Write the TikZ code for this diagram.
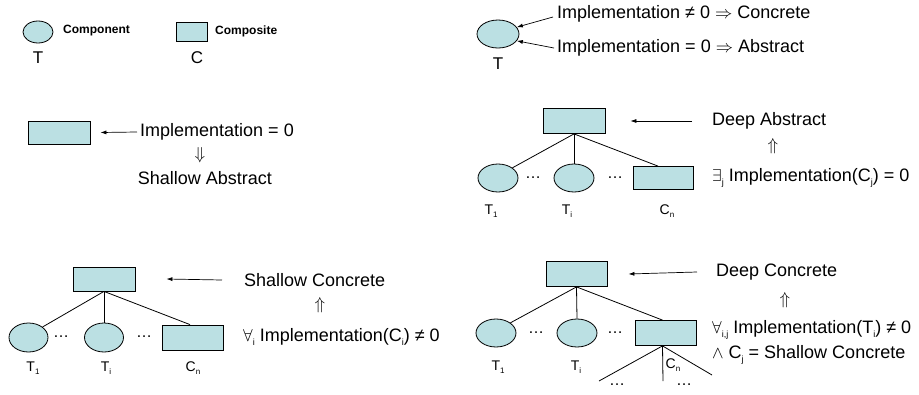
\documentclass[tikz,border=0pt]{standalone}
\usepackage{fontspec}
\setmainfont{Liberation Sans}
\usetikzlibrary{shapes.geometric,arrows.meta}
\definecolor{cfill}{RGB}{187,224,227}
\newcommand\mysub[2][9]{\raisebox{-0.45ex}{\fontsize{#1}{#1}\selectfont #2}}
\begin{document}
\begin{tikzpicture}[x=1pt,y=-1pt,
 tnode/.style={ellipse,draw,fill=cfill,line width=0.8pt,inner sep=0pt,minimum width=40pt,minimum height=28pt},
 cnode/.style={rectangle,draw,fill=cfill,line width=0.8pt,inner sep=0pt,minimum width=61pt,minimum height=24pt},
 big/.style={font=\fontsize{18}{20}\selectfont,inner sep=0pt},
 txt/.style={big,anchor=west},
 bold/.style={font=\fontsize{12}{14}\selectfont\bfseries,inner sep=0pt,anchor=west},
 sml/.style={font=\fontsize{14}{16}\selectfont,inner sep=0pt},
 lgl/.style={font=\fontsize{17}{18}\selectfont,inner sep=0pt},
 dotsn/.style={font=\fontsize{16}{18}\selectfont,inner sep=0pt},
 arr/.style={-{Latex[length=6pt,width=4pt]},line width=0.7pt},
 edgel/.style={line width=0.8pt}]
\useasboundingbox (0,0) rectangle (919,394);

% legend
\node[tnode,minimum width=30pt,minimum height=22pt] (lt) at (38,32) {};
\node[bold] (lcomp) at (63,31) {Component};
\node[lgl] (lT) at (38,58) {T};
\node[cnode,minimum width=31pt,minimum height=19pt] (lc) at (191.5,31.5) {};
\node[bold] (lcompo) at (215,31) {Composite};
\node[lgl] (lC) at (197,58) {C};

% top right
\node[tnode,minimum width=42pt,minimum height=28pt] (tr) at (498,34) {};
\node[lgl] (trT) at (498,64) {T};
\node[txt] (c1) at (557,14) {Implementation ≠ 0 $\Rightarrow$ Concrete};
\node[txt] (c2) at (557,48) {Implementation = 0 $\Rightarrow$ Abstract};
\draw[arr] ([shift={(-4,3)}]c1.west) -- (tr.20);
\draw[arr] ([shift={(-3,0)}]c2.west) -- (tr.-20);

% middle left
\node[cnode,minimum width=62pt,minimum height=23pt] (ml) at (59,132.5) {};
\node[txt] (mlt) at (140,132) {Implementation = 0};
\draw[arr] ([xshift=-3pt]mlt.west) -- ([xshift=10pt]ml.east);
\node[big] (mld) at (200,155) {$\Downarrow$};
\node[big] (mls) at (205,178) {Shallow Abstract};

% middle right (deep abstract)
\node[cnode,minimum width=62pt,minimum height=25pt] (dr) at (574,121) {};
\node[txt] (da) at (712,121) {Deep Abstract};
\draw[arr] ([xshift=-20pt]da.west) -- ([xshift=25pt]dr.east);
\node[big] (dau) at (773,146) {$\Uparrow$};
\node[txt] (dac) at (712,178) {$\exists$\mysub{j} Implementation(C\mysub{j}) = 0};
\node[tnode] (de1) at (498,178) {};
\node[tnode] (de2) at (574,178) {};
\node[cnode,minimum width=60pt,minimum height=23pt] (dc2) at (663,178) {};
\node[dotsn] (dd1) at (533,178) {…};
\node[dotsn] (dd2) at (615,178) {…};
\draw[edgel] (dr.south) -- (de1.north east);
\draw[edgel] (dr.south) -- (de2.north);
\draw[edgel] (dr.south) -- ([xshift=-5pt]dc2.north);
\node[sml] (dl1) at (491,211) {T\mysub[8]{1}};
\node[sml] (dl2) at (567,211) {T\mysub[8]{i}};
\node[sml] (dl3) at (667,211) {C\mysub[8]{n}};

% bottom left (shallow concrete)
\node[cnode,minimum width=62pt,minimum height=24pt] (sr) at (104,279) {};
\node[txt] (sc) at (244,280) {Shallow Concrete};
\draw[arr] ([xshift=-22pt]sc.west) -- ([xshift=31pt]sr.east);
\node[big] (scu) at (320,305) {$\Uparrow$};
\node[txt] (scc) at (243,337) {$\forall$\mysub{i} Implementation(C\mysub{i}) ≠ 0};
\node[tnode,minimum width=39pt,minimum height=29pt] (se1) at (28.5,337.5) {};
\node[tnode,minimum width=39pt,minimum height=29pt] (se2) at (104,337.5) {};
\node[cnode,minimum width=61pt,minimum height=25pt] (sc2) at (193,337.5) {};
\node[dotsn] (sd1) at (61,337) {…};
\node[dotsn] (sd2) at (144,337) {…};
\draw[edgel] (sr.south) -- (se1.north east);
\draw[edgel] (sr.south) -- (se2.north);
\draw[edgel] (sr.south) -- ([xshift=-3pt]sc2.north);
\node[sml] (sl1) at (33,368) {T\mysub[8]{1}};
\node[sml] (sl2) at (106,368) {T\mysub[8]{i}};
\node[sml] (sl3) at (193,368) {C\mysub[8]{n}};

% bottom right (deep concrete)
\node[cnode,minimum width=61pt,minimum height=25pt] (br) at (576.5,274) {};
\node[txt] (dcn) at (716,272) {Deep Concrete};
\draw[arr] ([xshift=-19pt]dcn.west) -- ([xshift=21pt]br.east);
\node[big] (dcu) at (785,300) {$\Uparrow$};
\node[txt] (dcc1) at (712,330) {$\forall$\mysub{i,j} Implementation(T\mysub{i}) ≠ 0};
\node[txt] (dcc2) at (712,355) {$\wedge$ C\mysub{j} = Shallow Concrete};
\node[tnode] (be1) at (496,333) {};
\node[tnode] (be2) at (577,333) {};
\node[cnode,minimum width=61pt,minimum height=25pt] (bc2) at (665.5,333) {};
\node[dotsn] (bd1) at (536,333) {…};
\node[dotsn] (bd2) at (615,333) {…};
\draw[edgel] (br.south) -- (be1.north east);
\draw[edgel] (br.south) -- (be2.north);
\draw[edgel] (br.south) -- ([xshift=-3pt]bc2.north);
\coordinate (bl) at (599,381);
\coordinate (bm) at (663,381);
\coordinate (brr) at (712,375);
\draw[edgel] ([xshift=-3pt]bc2.south) -- (bl);
\draw[edgel] ([xshift=-3pt]bc2.south) -- (bm);
\draw[edgel] ([xshift=-3pt]bc2.south) -- (brr);
\node[dotsn] (bd3) at (617,385) {…};
\node[dotsn] (bd4) at (684,385) {…};
\node[sml] (bl1) at (498,367) {T\mysub[8]{1}};
\node[sml] (bl2) at (576,367) {T\mysub[8]{i}};
\node[sml] (bl3) at (673,365) {C\mysub[8]{n}};
\end{tikzpicture}
\end{document}
